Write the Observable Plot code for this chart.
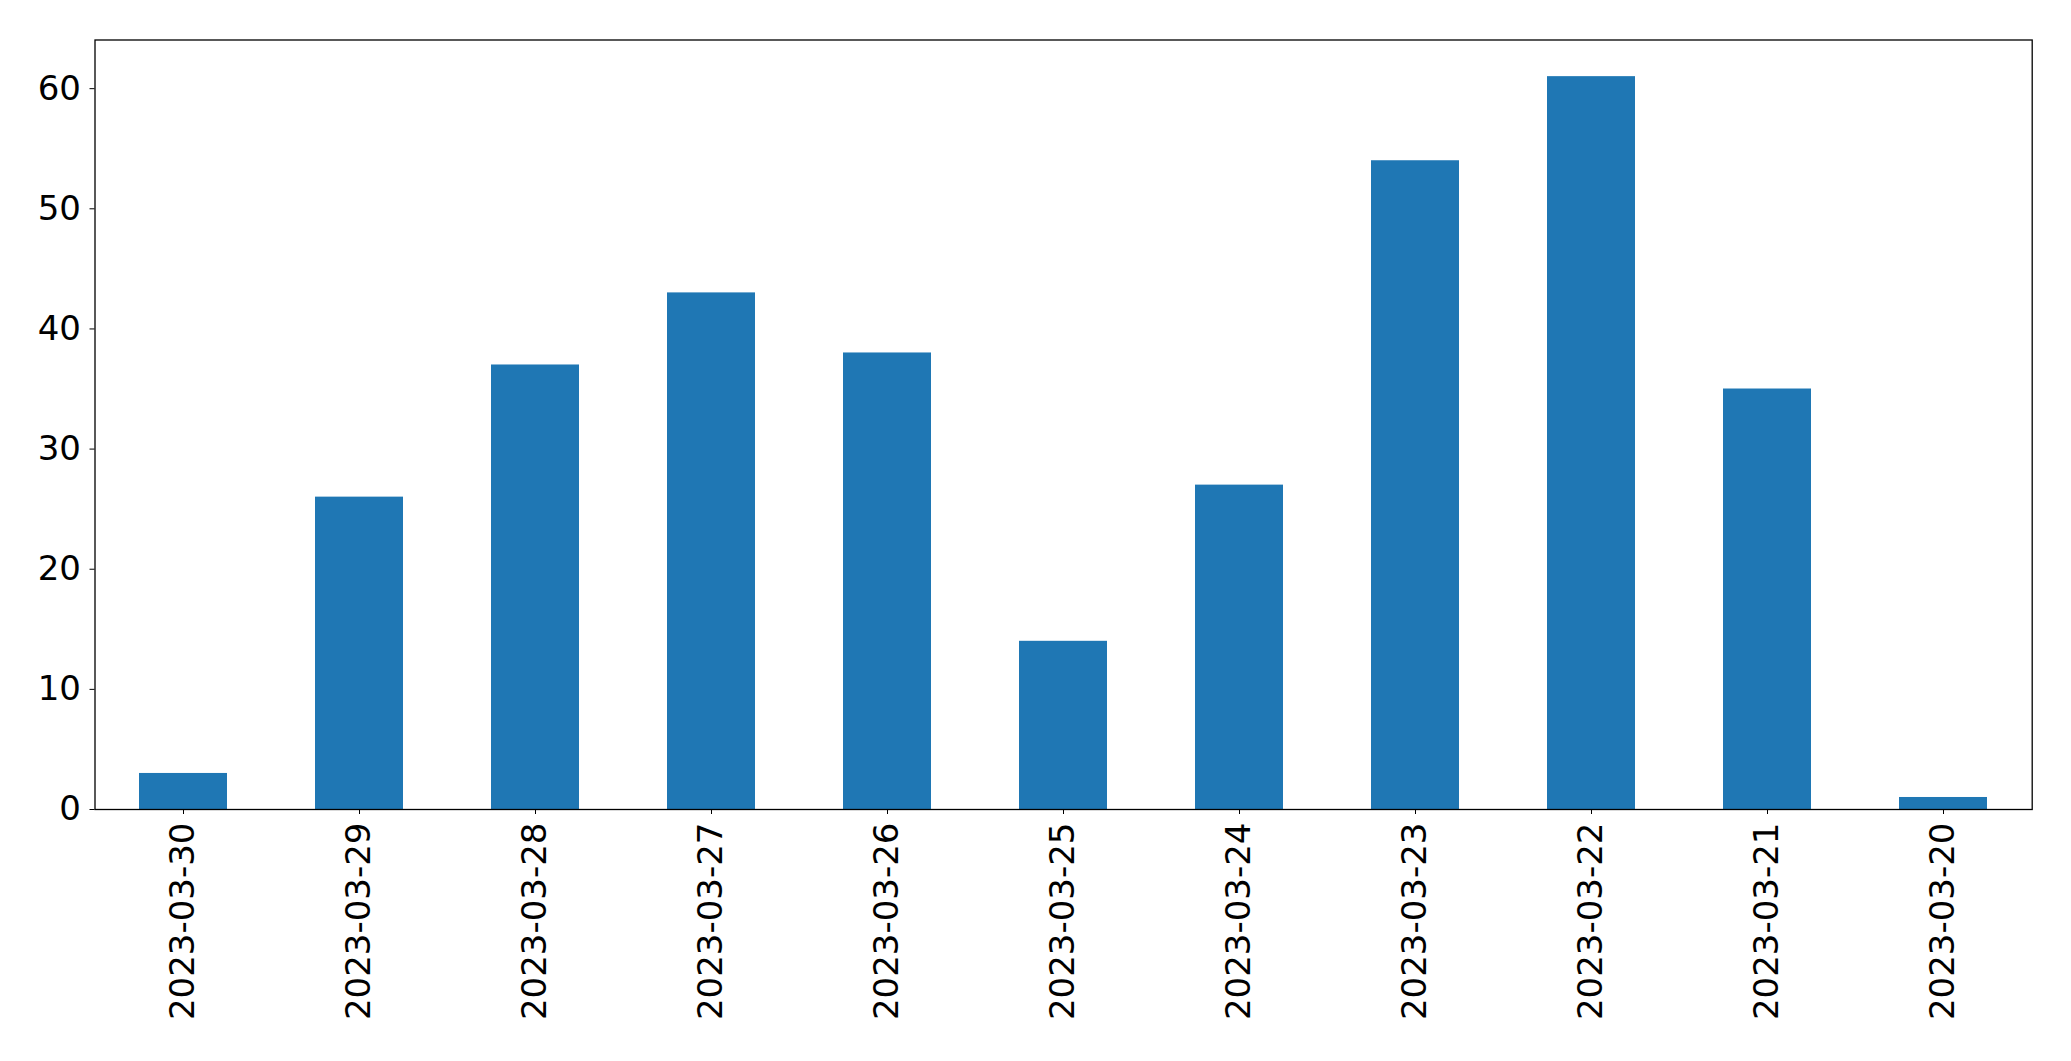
<!DOCTYPE html>
<html>
<head>
<meta charset="utf-8">
<script src="https://cdn.jsdelivr.net/npm/d3@7"></script>
<script src="https://cdn.jsdelivr.net/npm/@observablehq/plot@0.6"></script>
<style>
  html, body { margin: 0; padding: 0; background: #fff; }
  #chart svg { display: block; }
</style>
</head>
<body>
<div id="chart"></div>
<script>
const dates = ["2023-03-30","2023-03-29","2023-03-28","2023-03-27","2023-03-26","2023-03-25","2023-03-24","2023-03-23","2023-03-22","2023-03-21","2023-03-20"];
const counts = [3, 26, 37, 43, 38, 14, 27, 54, 61, 35, 1];
const yTicks = [0, 10, 20, 30, 40, 50, 60];

const data = dates.map((d, i) => ({date: d, count: counts[i]}));

const chart = Plot.plot({
  width: 2071,
  height: 1061,
  marginLeft: 94.5,
  marginRight: 39.3,
  marginTop: 39.5,
  marginBottom: 252,
  style: {fontFamily: "DejaVu Sans", fontSize: "34px", color: "#000", background: "#fff"},
  x: {domain: dates, paddingInner: 0.5, paddingOuter: 0.25, label: null, tickRotate: -90, tickSize: 5, tickPadding: 8},
  y: {domain: [0, 64.05], ticks: yTicks, label: null, tickSize: 5, tickPadding: 9},
  marks: [
    Plot.barY(data, {x: "date", y: "count", fill: "#1f77b4"}),
    Plot.frame({stroke: "#000", strokeWidth: 1.3})
  ]
});
document.getElementById("chart").appendChild(chart);
</script>
</body>
</html>
